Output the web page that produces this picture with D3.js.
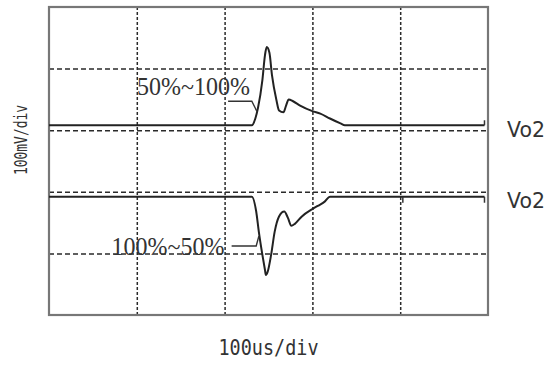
<!DOCTYPE html>
<html><head><meta charset="utf-8">
<script src="https://cdn.jsdelivr.net/npm/d3@7"></script>
<style>body{margin:0;background:#fff}</style>
</head><body>
<svg id="chart" width="555" height="365"></svg>
<script>
// Scope screen: 5 divisions each way, 100 µs/div and 100 mV/div
const timeTicks = [0, 100, 200, 300, 400, 500];
const voltTicks = [0, 100, 200, 300, 400, 500];
const xLabel = "100us/div";
const yLabel = "100mV/div";
const channelName = "Vo2";

// Load step 50% -> 100%: deviation of Vo2 (mV) against time (µs)
const stepUpTime = [0, 231, 235, 238, 243, 246, 248, 251, 254, 259, 262, 267, 270, 273, 278, 286, 300, 309, 320, 332, 337, 496];
const stepUpMv   = [0, 0, 11, 28, 73, 114, 127, 118, 81, 41, 24, 21, 32, 42, 39, 32, 23, 19, 11, 3, 0, 0];

// Load step 100% -> 50%
const stepDownTime = [0, 231, 236, 239, 243, 246, 247, 249, 253, 257, 262, 268, 272, 276, 280, 288, 300, 306, 314, 320, 496];
const stepDownMv   = [0, 0, -24, -57, -94, -119, -127, -122, -94, -57, -32, -24, -34, -47, -44, -32, -20, -15, -8, 0, 0];

const stepLabels = ["50%~100%", "100%~50%"];
// Screen level of each trace's ground (mV on the graticule)
const channelOffsets = [308, 192];
// Cursor marks on the traces (µs)
const upMarkTimes = [496];
const downMarkTimes = [403, 496];

const svg = d3.select("#chart");
const x = d3.scaleLinear().domain([0, 500]).range([49, 488]);
const y = d3.scaleLinear().domain([0, 500]).range([315, 7]);
const W = x(500) - x(0), H = y(0) - y(500);

// Graticule
const gh = svg.append("g").attr("transform", `translate(${x(0)},0)`)
  .call(d3.axisLeft(y).tickValues(voltTicks.slice(1, -1)).tickSize(-W).tickFormat(""));
gh.select(".domain").remove();
gh.selectAll("line").attr("stroke", "#2a2a2a").attr("stroke-width", 1.5).attr("stroke-dasharray", "5,3");

const gv = svg.append("g").attr("transform", `translate(0,${y(0)})`)
  .call(d3.axisBottom(x).tickValues(timeTicks.slice(1, -1)).tickSize(-H).tickFormat(""));
gv.select(".domain").remove();
gv.selectAll("line").attr("stroke", "#2a2a2a").attr("stroke-width", 1.5).attr("stroke-dasharray", "3,2");

// Frame
svg.append("rect").attr("x", x(0)).attr("y", y(500)).attr("width", W).attr("height", H)
  .attr("fill", "none").attr("stroke", "#777").attr("stroke-width", 2.2);

// Traces
const traces = [
  {t: stepUpTime, v: stepUpMv, off: channelOffsets[0]},
  {t: stepDownTime, v: stepDownMv, off: channelOffsets[1]}
];
const line = d3.line().x(d => x(d[0])).y(d => y(d[1])).curve(d3.curveMonotoneX);
traces.forEach(tr => {
  const pts = tr.t.map((t, i) => [t, tr.v[i] + tr.off]);
  svg.append("path").attr("d", line(pts)).attr("fill", "none")
    .attr("stroke", "#222").attr("stroke-width", 2).attr("stroke-linejoin", "round");
});

// Cursor marks
upMarkTimes.forEach(t => {
  svg.append("line").attr("x1", x(t)).attr("x2", x(t))
    .attr("y1", y(channelOffsets[0])).attr("y2", y(channelOffsets[0]) - 5)
    .attr("stroke", "#333").attr("stroke-width", 1.5);
});
downMarkTimes.forEach(t => {
  svg.append("line").attr("x1", x(t)).attr("x2", x(t))
    .attr("y1", y(channelOffsets[1])).attr("y2", y(channelOffsets[1]) + 6)
    .attr("stroke", "#333").attr("stroke-width", 1.5);
});

// Step labels with leader lines
const leaders = [
  [[204, 347], [231, 347], [237, 330]],
  [[208, 112], [236, 112], [239, 128]]
];
const leaderLine = d3.line().x(d => x(d[0])).y(d => y(d[1]));
leaders.forEach(p => {
  svg.append("path").attr("d", leaderLine(p)).attr("fill", "none")
    .attr("stroke", "#333").attr("stroke-width", 1.4);
});
const labelAnchors = [[229, 357], [200, 97]];
stepLabels.forEach((s, i) => {
  svg.append("text").attr("x", x(labelAnchors[i][0])).attr("y", y(labelAnchors[i][1]))
    .attr("text-anchor", "end")
    .attr("font-family", "'Liberation Serif', 'DejaVu Serif', serif")
    .attr("font-size", 26).attr("fill", "#333")
    .attr("textLength", 113).attr("lengthAdjust", "spacingAndGlyphs")
    .text(s);
});

// Channel names at the right of each trace
channelOffsets.forEach(off => {
  svg.append("text").attr("x", x(500) + 19).attr("y", y(off) + 11.5)
    .attr("font-family", "'DejaVu Sans', sans-serif").attr("font-size", 22).attr("fill", "#333")
    .attr("textLength", 38).attr("lengthAdjust", "spacingAndGlyphs")
    .text(channelName);
});

// Scale captions
svg.append("text").attr("x", x(250)).attr("y", 355).attr("text-anchor", "middle")
  .attr("font-family", "'DejaVu Sans Mono', monospace").attr("font-size", 21).attr("fill", "#333")
  .attr("textLength", 100).attr("lengthAdjust", "spacingAndGlyphs")
  .text(xLabel);
svg.append("text").attr("transform", "translate(27,140) rotate(-90)").attr("text-anchor", "middle")
  .attr("font-family", "'DejaVu Sans Mono', monospace").attr("font-size", 17).attr("fill", "#333")
  .attr("textLength", 70).attr("lengthAdjust", "spacingAndGlyphs")
  .text(yLabel);
</script>
</body></html>
